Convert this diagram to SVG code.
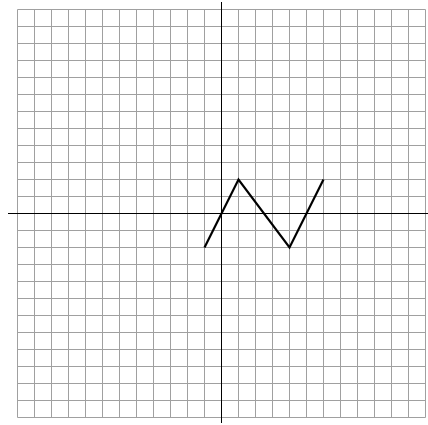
<svg xmlns="http://www.w3.org/2000/svg" width="428" height="425" viewBox="0 0 428 425">
<style>
.grid{stroke:#a0a0a0;stroke-width:1;fill:none}
.axis{stroke:#000;stroke-width:1;fill:none}
.curve{stroke:#000;stroke-width:2.2;fill:none;stroke-linejoin:miter}
</style>
<rect width="428" height="425" fill="#fff"/>
<g id="grid" class="grid">
<path d="M17.5 9.5V417.5M34.5 9.5V417.5M51.5 9.5V417.5M68.5 9.5V417.5M85.5 9.5V417.5M102.5 9.5V417.5M119.5 9.5V417.5M136.5 9.5V417.5M153.5 9.5V417.5M170.5 9.5V417.5M187.5 9.5V417.5M204.5 9.5V417.5M221.5 9.5V417.5M238.5 9.5V417.5M255.5 9.5V417.5M272.5 9.5V417.5M289.5 9.5V417.5M306.5 9.5V417.5M323.5 9.5V417.5M340.5 9.5V417.5M357.5 9.5V417.5M374.5 9.5V417.5M391.5 9.5V417.5M408.5 9.5V417.5M425.5 9.5V417.5"/>
<path d="M17.5 9.5H425.5M17.5 26.5H425.5M17.5 43.5H425.5M17.5 60.5H425.5M17.5 77.5H425.5M17.5 94.5H425.5M17.5 111.5H425.5M17.5 128.5H425.5M17.5 145.5H425.5M17.5 162.5H425.5M17.5 179.5H425.5M17.5 196.5H425.5M17.5 213.5H425.5M17.5 230.5H425.5M17.5 247.5H425.5M17.5 264.5H425.5M17.5 281.5H425.5M17.5 298.5H425.5M17.5 315.5H425.5M17.5 332.5H425.5M17.5 349.5H425.5M17.5 366.5H425.5M17.5 383.5H425.5M17.5 400.5H425.5M17.5 417.5H425.5"/>
</g>
<g id="axes" class="axis">
<line x1="8" y1="213.5" x2="428" y2="213.5"/>
<line x1="221.5" y1="2" x2="221.5" y2="423"/>
</g>
<g id="connectors">
<polyline class="curve" points="204.5,247.5 238.5,179.5 289.5,247.5 323.5,179.5"/>
</g>
</svg>
